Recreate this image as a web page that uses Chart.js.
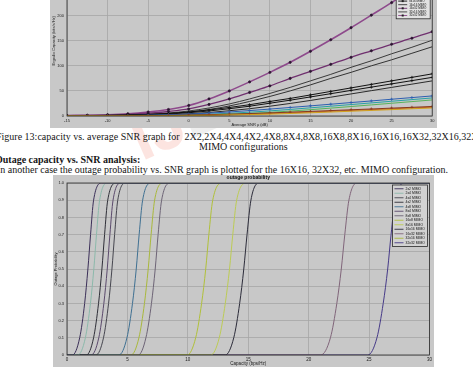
<!DOCTYPE html>
<html>
<head>
<meta charset="utf-8">
<script src="https://cdn.jsdelivr.net/npm/chart.js@4.4.1/dist/chart.umd.min.js"></script>
<style>
  body { margin: 0; width: 473px; height: 367px; overflow: hidden; background: #fff; position: relative; }
  .fig { position: absolute; overflow: hidden; background: #c8c8c8; z-index: 2; }
  .fig canvas { position: absolute; left: 0; }
  .t { position: absolute; font: 10px/10px 'Liberation Serif', 'Times New Roman', serif; white-space: nowrap; color: #161616; z-index: 1; }
  .b { font-weight: bold; }
  #wm { position: absolute; left: 120px; top: 112px; font: bold 64px/64px 'Liberation Sans', sans-serif; transform: rotate(-24deg); transform-origin: left top; z-index: 0; white-space: nowrap; }
</style>
</head>
<body>
<div id="wm"><span style="color:rgba(238,120,100,0.2)">IJ</span><span style="color:rgba(120,120,120,0.12)">EDR</span></div>

<div class="fig" style="left:50px;top:0;width:387px;height:128px">
  <canvas id="capChart" width="387" height="170" style="top:-42px"></canvas>
</div>

<div class="t" style="left:-4px;top:132px">Figure 13:capacity vs. average SNR graph for&nbsp; 2X2,2X4,4X4,4X2,4X8,8X4,8X8,16X8,8X16,16X16,16X32,32X16,32X32</div>
<div class="t" style="left:199px;top:141.6px">MIMO configurations</div>
<div class="t b" style="left:-5px;top:155px">Outage capacity vs. SNR analysis:</div>
<div class="t" style="left:-3px;top:165px">In another case the outage probability vs. SNR graph is plotted for the 16X16, 32X32, etc. MIMO configuration.</div>

<div class="fig" style="left:53px;top:175px;width:381px;height:192px">
  <canvas id="outChart" width="381" height="192" style="top:0"></canvas>
</div>

<script>
const configs = ['2x2 MIMO', '2x4 MIMO', '4x4 MIMO', '4x2 MIMO', '4x8 MIMO', '8x4 MIMO', '8x8 MIMO',
  '16x8 MIMO', '8x16 MIMO', '16x16 MIMO', '16x32 MIMO', '32x16 MIMO', '32x32 MIMO'];

// ergodic capacity vs average SNR (dB)
const snr = [-15, -12.5, -10, -7.5, -5, -2.5, 0, 2.5, 5, 7.5, 10, 12.5, 15, 17.5, 20, 22.5, 25, 27.5, 30];
const cap2x2 = [0.05, 0.1, 0.1, 0.2, 0.3, 0.5, 0.8, 1.3, 1.9, 2.7, 3.7, 5, 6.4, 7.9, 9.5, 11.1, 12.7, 14.4, 16];
const cap2x4 = [0.1, 0.2, 0.3, 0.5, 0.8, 1.3, 1.9, 2.7, 3.7, 4.9, 6.2, 7.7, 9.2, 10.8, 12.4, 14, 15.7, 17.3, 19];
const cap4x4 = [0.1, 0.1, 0.2, 0.3, 0.5, 0.9, 1.4, 2.3, 3.5, 5.1, 7.2, 9.8, 12.6, 15.7, 18.9, 22.1, 25.4, 28.7, 32];
const cap4x2 = [0.1, 0.1, 0.2, 0.3, 0.5, 0.8, 1.3, 1.9, 2.7, 3.7, 4.9, 6.3, 7.8, 9.4, 11, 12.6, 14.2, 15.9, 17.5];
const cap4x8 = [0.2, 0.3, 0.5, 0.9, 1.5, 2.4, 3.8, 5.7, 8, 10.8, 13.8, 17, 20.2, 23.5, 26.8, 30, 33.4, 36.7, 40];
const cap8x4 = [0.1, 0.2, 0.3, 0.5, 0.9, 1.4, 2.3, 3.6, 5.4, 7.6, 10.2, 13.1, 16.3, 19.5, 22.8, 26.1, 29.4, 32.7, 36];
const cap8x8 = [0.2, 0.4, 0.6, 1, 1.7, 2.8, 4.5, 7, 10.5, 14.5, 19.5, 25, 31, 37.5, 44, 50.5, 57, 63.5, 70];
const cap16x8 = [0.3, 0.6, 0.9, 1.5, 2.5, 4, 6.5, 10, 14.5, 19.5, 25.5, 31.5, 38, 44.5, 51, 57.5, 64, 70.5, 77];
const cap8x16 = [0.4, 0.7, 1.1, 1.8, 3, 5, 8, 12, 17, 22.5, 29, 35, 42, 49, 56, 63, 70, 77, 84];
const cap16x16 = [0.5, 0.8, 1.2, 1.9, 3, 5, 8, 13, 20, 29, 39, 50, 62, 75, 87, 100, 112, 125, 138];
const cap16x32 = [0.7, 1, 1.8, 3.2, 5.5, 9, 14, 23, 34, 47, 60, 75, 89, 103, 117, 130, 143, 155, 168];
const cap32x16 = [0.6, 0.9, 1.4, 2.3, 3.8, 6, 10, 16, 24, 34, 45, 57, 70, 83, 97, 110, 124, 137, 151];
const cap32x32 = [1, 1.5, 2.5, 4.5, 8, 13, 21, 34, 50, 68, 87, 107, 129, 152, 176, 201, 226, 252, 278];
const snrTicks = [-15, -10, -5, 0, 5, 10, 15, 20, 25, 30];

// outage probability vs capacity (bps/Hz): capacity read at these probability levels
const outageLevels = [0, 0, 0.1, 0.3, 0.5, 0.7, 0.9, 1, 1];
const out2x2 = [0, 0.45, 1.05, 1.46, 1.73, 1.95, 2.2, 2.9, 30];
const out2x4 = [0, 0.9, 1.52, 1.94, 2.22, 2.44, 2.7, 3.4, 30];
const out4x4 = [0, 2.4, 3.02, 3.44, 3.72, 3.94, 4.2, 4.9, 30];
const out4x2 = [0, 1.6, 2.2, 2.61, 2.89, 3.11, 3.37, 4.1, 30];
const out4x8 = [0, 4.3, 4.96, 5.42, 5.73, 5.97, 6.26, 7.0, 30];
const out8x4 = [0, 2.0, 2.63, 3.05, 3.33, 3.55, 3.81, 4.5, 30];
const out8x8 = [0, 5.9, 6.53, 6.99, 7.3, 7.54, 7.83, 8.6, 30];
const out16x8 = [0, 9.95, 10.65, 11.14, 11.48, 11.74, 12.06, 12.9, 30];
const out8x16 = [0, 11.9, 12.6, 13.1, 13.45, 13.72, 14.04, 14.9, 30];
const out16x16 = [0, 13.1, 13.8, 14.29, 14.63, 14.9, 15.22, 15.9, 30];
const out16x32 = [0, 21.0, 21.8, 22.33, 22.7, 22.99, 23.33, 24.0, 30];
const out32x16 = [0, 5.3, 5.95, 6.41, 6.72, 6.96, 7.25, 8.0, 30];
const out32x32 = [0, 24.9, 25.65, 26.17, 26.54, 26.82, 27.15, 28.0, 30];

Chart.defaults.font.family = "'Liberation Sans', Arial, sans-serif";
Chart.defaults.color = '#1a1a1a';

const gridColor = '#a6a6a6';

// matlab style frame + legend box in the upper right of the axes
const boxLegend = {
  id: 'boxLegend',
  afterDatasetsDraw(chart, args, o) {
    const { ctx, chartArea: a } = chart;
    ctx.save();
    ctx.strokeStyle = '#2a2a2a';
    ctx.lineWidth = 0.8;
    ctx.strokeRect(a.left, a.top, a.right - a.left, a.bottom - a.top);

    const sets = chart.data.datasets;
    const h = sets.length * o.rowH + 3;
    const x0 = a.right - o.right - o.width;
    const y0 = a.top + o.top;
    ctx.fillStyle = o.fill;
    ctx.fillRect(x0, y0, o.width, h);
    ctx.strokeRect(x0, y0, o.width, h);
    ctx.font = o.fontSize + "px 'Liberation Sans', Arial, sans-serif";
    ctx.textBaseline = 'middle';
    sets.forEach((ds, i) => {
      const y = y0 + 1.5 + o.rowH * (i + 0.5);
      ctx.strokeStyle = ds.borderColor;
      ctx.lineWidth = 0.9;
      ctx.beginPath();
      ctx.moveTo(x0 + 2, y);
      ctx.lineTo(x0 + 11, y);
      ctx.stroke();
      if (ds.pointRadius) {
        ctx.fillStyle = '#222';
        ctx.fillRect(x0 + 5.5, y - 1, 2, 2);
      }
      ctx.fillStyle = '#111';
      ctx.fillText(ds.label, x0 + 13, y);
    });
    ctx.restore();
  }
};

function capSet(label, values, color, marker, width) {
  return {
    label,
    data: snr.map((x, i) => ({ x, y: values[i] })),
    borderColor: color,
    backgroundColor: color,
    borderWidth: width || 1,
    pointRadius: marker ? (marker === 'circle' ? 1.1 : 1.5) : 0,
    pointStyle: marker || 'circle',
    pointBackgroundColor: '#2b1530',
    pointBorderColor: marker === 'circle' ? '#2b1530' : color,
    pointBorderWidth: 0.8,
    cubicInterpolationMode: 'monotone'
  };
}

new Chart(document.getElementById('capChart'), {
  type: 'line',
  data: {
    datasets: [
      capSet(configs[0], cap2x2, '#d3a21c'),
      capSet(configs[1], cap2x4, '#8a3a1c', 'cross'),
      capSet(configs[2], cap4x4, '#58b35a'),
      capSet(configs[3], cap4x2, '#b5532a'),
      capSet(configs[4], cap4x8, '#2c5eb0', 'cross'),
      capSet(configs[5], cap8x4, '#27a1a4'),
      capSet(configs[6], cap8x8, '#2a2a2a'),
      capSet(configs[7], cap16x8, '#111111', 'cross'),
      capSet(configs[8], cap8x16, '#111111', 'cross'),
      capSet(configs[9], cap16x16, '#333333'),
      capSet(configs[10], cap16x32, '#70306f', 'circle', 1.3),
      capSet(configs[11], cap32x16, '#3a3a3a'),
      capSet(configs[12], cap32x32, '#8e4a8c', 'circle', 1.6)
    ]
  },
  options: {
    responsive: false,
    animation: false,
    events: [],
    layout: { padding: { left: 0, right: 4, top: 7.5, bottom: 0 } },
    scales: {
      x: {
        type: 'linear', min: -15, max: 30,
        afterBuildTicks: s => { s.ticks = snrTicks.map(v => ({ value: v })); },
        afterFit: s => { s.height = 12; },
        ticks: { font: { size: 4 }, padding: 2, maxRotation: 0, autoSkip: false },
        grid: { color: gridColor, lineWidth: 0.8, drawTicks: false },
        border: { display: false },
        title: { display: true, text: 'Average SNR ρ (dB)', font: { size: 4 }, padding: { top: 0, bottom: 1 } }
      },
      y: {
        min: 0, max: 300,
        afterFit: s => { s.width = 17; },
        ticks: { stepSize: 50, font: { size: 4 }, padding: 3 },
        grid: { color: gridColor, lineWidth: 0.8, drawTicks: false },
        border: { display: false },
        title: { display: true, text: 'Ergodic Capacity (bits/s/Hz)', font: { size: 4 }, padding: { top: 1, bottom: 0 } }
      }
    },
    plugins: {
      legend: { display: false },
      tooltip: { enabled: false },
      boxLegend: { width: 34, rowH: 3.6, right: 2, top: 3.5, fontSize: 3, fill: '#e2e2e2' }
    }
  },
  plugins: [boxLegend]
});

function outSet(label, caps, color) {
  return {
    label,
    data: outageLevels.map((p, i) => ({ x: caps[i], y: p })),
    borderColor: color,
    borderWidth: 1,
    pointRadius: 0,
    cubicInterpolationMode: 'monotone'
  };
}

new Chart(document.getElementById('outChart'), {
  type: 'line',
  data: {
    datasets: [
      outSet(configs[0], out2x2, '#3b2f58'),
      outSet(configs[1], out2x4, '#8cb9ab'),
      outSet(configs[2], out4x4, '#46464f'),
      outSet(configs[3], out4x2, '#2f2f38'),
      outSet(configs[4], out4x8, '#3f7092'),
      outSet(configs[5], out8x4, '#5b4a6c'),
      outSet(configs[6], out8x8, '#6d6476'),
      outSet(configs[7], out16x8, '#b0c03a'),
      outSet(configs[8], out8x16, '#bccb55'),
      outSet(configs[9], out16x16, '#2c2c3a'),
      outSet(configs[10], out16x32, '#80657a'),
      outSet(configs[11], out32x16, '#a9b83c'),
      outSet(configs[12], out32x32, '#463a88')
    ]
  },
  options: {
    responsive: false,
    animation: false,
    events: [],
    layout: { padding: { left: 0, right: 2, top: 0, bottom: 0 } },
    scales: {
      x: {
        type: 'linear', min: 0, max: 30,
        afterFit: s => { s.height = 12; },
        ticks: { stepSize: 5, font: { size: 4.5 }, padding: 2, maxRotation: 0, autoSkip: false },
        grid: { color: gridColor, lineWidth: 0.8, drawTicks: false },
        border: { display: false },
        title: { display: true, text: 'Capacity (bps/Hz)', font: { size: 4.5 }, padding: { top: 0, bottom: 1 } }
      },
      y: {
        min: 0, max: 1,
        afterFit: s => { s.width = 14; },
        ticks: { stepSize: 0.1, font: { size: 4 }, padding: 3 },
        grid: { color: gridColor, lineWidth: 0.8, drawTicks: false },
        border: { display: false },
        title: { display: true, text: 'Outage Probability', font: { size: 4 }, padding: { top: 0.5, bottom: 0 } }
      }
    },
    plugins: {
      legend: { display: false },
      tooltip: { enabled: false },
      title: {
        display: true, fullSize: false, text: 'outage probability',
        font: { size: 5, weight: 'bold' }, color: '#111', padding: { top: 0, bottom: 2 }
      },
      boxLegend: { width: 35, rowH: 4.5, right: 2, top: 2, fontSize: 3.4, fill: '#d2d2d2' }
    }
  },
  plugins: [boxLegend]
});
</script>
</body>
</html>
